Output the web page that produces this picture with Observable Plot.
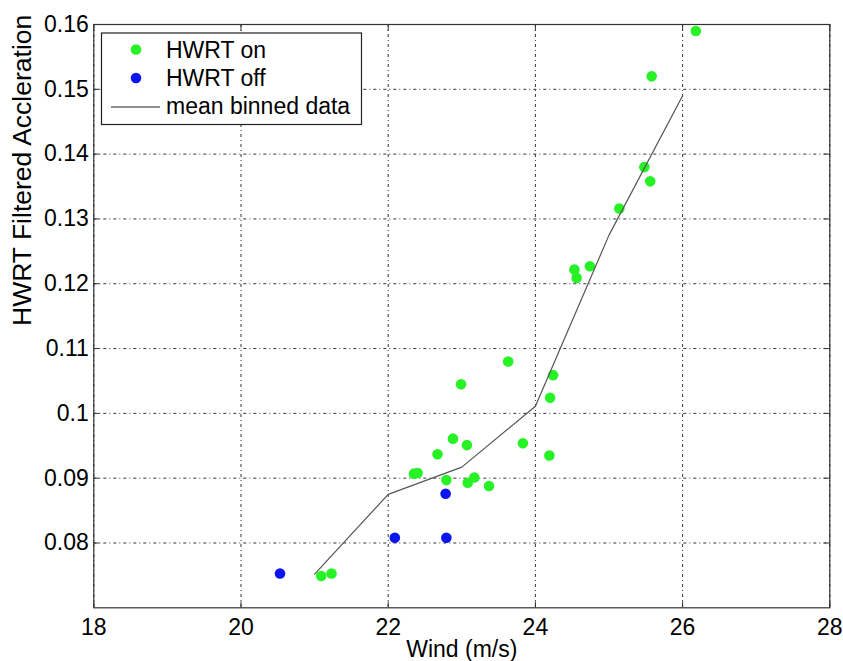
<!DOCTYPE html>
<html><head><meta charset="utf-8">
<script src="https://cdn.jsdelivr.net/npm/d3@7"></script>
<script src="https://cdn.jsdelivr.net/npm/@observablehq/plot@0.6"></script>
<style>body{margin:0;background:#fff} #chart{width:843px;height:661px}</style>
</head><body><div id="chart"></div>
<script>
// HWRT on (green)
const onWind = [26.18, 25.58, 25.48, 25.56, 25.14, 24.74, 24.53, 24.56, 23.63, 24.24, 24.20, 22.99, 22.88, 23.07, 23.83, 22.67, 24.19, 22.79, 23.08, 23.17, 23.37, 22.35, 22.40, 21.09, 21.23];
const onAcc  = [0.1590, 0.1520, 0.1380, 0.1358, 0.1316, 0.1227, 0.1222, 0.1209, 0.1080, 0.1059, 0.1024, 0.1045, 0.0961, 0.0951, 0.0954, 0.0937, 0.0935, 0.0897, 0.0893, 0.0901, 0.0888, 0.0907, 0.0908, 0.0749, 0.0753];
// HWRT off (blue)
const offWind = [20.53, 22.09, 22.78, 22.79];
const offAcc  = [0.0753, 0.0808, 0.0876, 0.0808];
// mean binned data (line)
const binWind = [21, 22, 23, 24, 25, 26];
const binAcc  = [0.0752, 0.0875, 0.0917, 0.1011, 0.1275, 0.1490];

const xTicks = [18, 20, 22, 24, 26, 28];
const yTicks = [0.08, 0.09, 0.10, 0.11, 0.12, 0.13, 0.14, 0.15, 0.16];
const legendLabels = ["HWRT on", "HWRT off", "mean binned data"];
const xLabel = "Wind (m/s)";
const yLabel = "HWRT Filtered Accleration";

const onData = onWind.map((x, i) => ({x, y: onAcc[i]}));
const offData = offWind.map((x, i) => ({x, y: offAcc[i]}));
const binData = binWind.map((x, i) => ({x, y: binAcc[i]}));

const font = '"Liberation Sans", Arial, Helvetica, sans-serif';
const green = "#26f226", blue = "#0b14f2";
const grid = {stroke: "#333", strokeOpacity: 1, strokeWidth: 1, strokeDasharray: "3,3,1,3"};

const plot = Plot.plot({
  width: 843, height: 661,
  marginLeft: 93.3, marginRight: 13.7, marginTop: 24, marginBottom: 53.7,
  style: {fontFamily: font, fontSize: "23px", color: "#000", background: "#fff"},
  x: {domain: [18, 28]},
  y: {domain: [0.07, 0.16]},
  marks: [
    Plot.gridX(xTicks, grid),
    Plot.gridY(yTicks, grid),
    Plot.axisX(xTicks, {anchor: "bottom", tickSize: -6, tickPadding: 17, label: null, stroke: "#333", tickFormat: d => String(d)}),
    Plot.axisX(xTicks, {anchor: "top", tickSize: -6, label: null, stroke: "#333", tickFormat: () => ""}),
    Plot.axisY(yTicks, {anchor: "left", tickSize: -6, tickPadding: 11, label: null, stroke: "#333", tickFormat: d => String(+d.toFixed(2))}),
    Plot.axisY(yTicks, {anchor: "right", tickSize: -6, label: null, stroke: "#333", tickFormat: () => ""}),
    Plot.dot(onData, {x: "x", y: "y", r: 5.3, fill: green}),
    Plot.dot(offData, {x: "x", y: "y", r: 5.3, fill: blue}),
    Plot.line(binData, {x: "x", y: "y", stroke: "#555", strokeWidth: 1.2}),
    Plot.frame({stroke: "#333", strokeWidth: 1.2}),
    Plot.text([xLabel], {text: d => d, frameAnchor: "bottom", lineAnchor: "top", dy: 33, fontSize: 23, fill: "#000"}),
    Plot.text([yLabel], {text: d => d, frameAnchor: "left", rotate: -90, dx: -70.8, dy: 9.8, fontSize: 26.5, fill: "#000"})
  ]
});

// legend box inside the axes (top-left), as in the reference
const svg = d3.select(plot);
const lg = svg.append("g").attr("font-family", font).attr("font-size", 23).attr("fill", "#000").attr("text-anchor", "start");
lg.append("rect").attr("x", 101.5).attr("y", 33).attr("width", 260).attr("height", 91.5)
  .attr("fill", "#fff").attr("stroke", "#222").attr("stroke-width", 1.2);
lg.append("circle").attr("cx", 136).attr("cy", 49.5).attr("r", 5.3).attr("fill", green);
lg.append("circle").attr("cx", 136).attr("cy", 78).attr("r", 5.3).attr("fill", blue);
lg.append("line").attr("x1", 111).attr("x2", 160).attr("y1", 107).attr("y2", 107).attr("stroke", "#222").attr("stroke-width", 1.2);
[58, 86, 114].forEach((y, i) => lg.append("text").attr("x", 166).attr("y", y).attr("text-anchor", "start").text(legendLabels[i]));

document.getElementById("chart").appendChild(plot);
</script>
</body></html>
